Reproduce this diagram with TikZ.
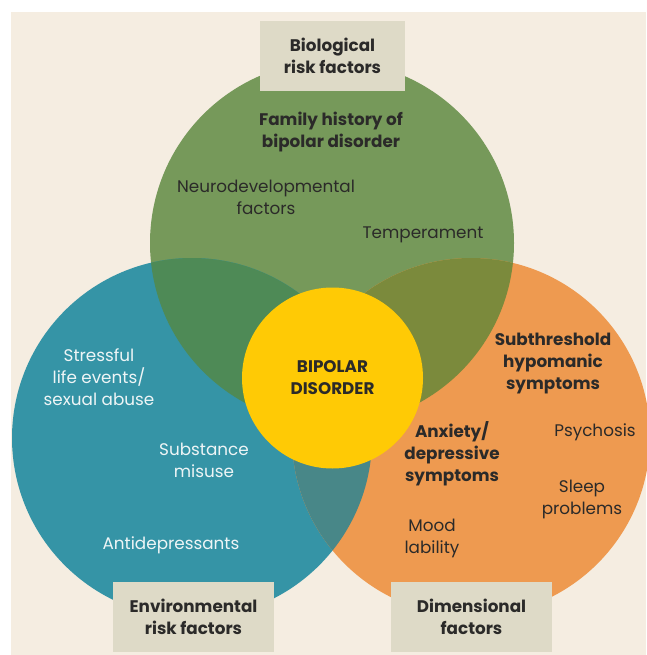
\documentclass[tikz,border=0pt]{standalone}
\usepackage{fontspec}
\setmainfont{Poppins}
\definecolor{bg}{HTML}{F5EDE1}
\definecolor{cgreen}{HTML}{76995A}
\definecolor{cblue}{HTML}{3594A6}
\definecolor{corange}{HTML}{EE9A50}
\definecolor{cyellow}{HTML}{FFCA05}
\definecolor{cgb}{HTML}{4E8A56}
\definecolor{cgo}{HTML}{7B8A3C}
\definecolor{cbo}{HTML}{488788}
\definecolor{boxc}{HTML}{DEDAC7}
\definecolor{txt}{HTML}{2B2A29}
\definecolor{wtxt}{HTML}{EEF5F6}
\begin{document}
\begin{tikzpicture}[x=1pt,y=-1pt,
  lbl/.style={align=center, text=txt, inner sep=0pt, font=\fontsize{16.8}{22}\selectfont},
  blbl/.style={lbl, font=\fontsize{16.8}{22}\selectfont\bfseries},
  wlbl/.style={lbl, text=wtxt},
  catbox/.style={fill=boxc, minimum width=#1, minimum height=70pt, inner sep=0pt, align=center, text=txt, font=\fontsize{16.8}{22}\selectfont\bfseries}]
\useasboundingbox (0,0) rectangle (646,655);
\fill[white] (0,0) rectangle (646,655);
\fill[bg] (11,12) rectangle (646,655);
% circles
\fill[cgreen] (332,243) circle[radius=182pt];
\fill[cblue] (192,438) circle[radius=180pt];
\fill[corange] (471,437) circle[radius=179pt];
\begin{scope}
  \clip (332,243) circle[radius=182pt];
  \fill[cgb] (192,438) circle[radius=180pt];
\end{scope}
\begin{scope}
  \clip (332,243) circle[radius=182pt];
  \fill[cgo] (471,437) circle[radius=179pt];
\end{scope}
\begin{scope}
  \clip (192,438) circle[radius=180pt];
  \fill[cbo] (471,437) circle[radius=179pt];
\end{scope}
\node[circle, fill=cyellow, minimum size=181pt, inner sep=0pt, align=center, text=txt,
  font=\fontsize{16.8}{22}\selectfont\bfseries] (core) at (332.5,378) {BIPOLAR\\DISORDER};
% category boxes
\node[catbox=145pt] (bio) at (332.5,56) {Biological\\risk factors};
\node[catbox=161pt] (env) at (193.5,617) {Environmental\\risk factors};
\node[catbox=161pt] (dim) at (471.5,617) {Dimensional\\factors};
% green texts
\node[blbl] (fam) at (331,132) {Family history of\\bipolar disorder};
\node[lbl] (neuro) at (266,197) {Neurodevelopmental\\factors};
\node[lbl] (temp) at (423,235) {Temperament};
% blue texts
\node[wlbl] (stress) at (99,377) {Stressful\\life events/\\sexual abuse};
\node[wlbl] (subst) at (204,460) {Substance\\misuse};
\node[wlbl] (antid) at (171,545) {Antidepressants};
% orange texts
\node[blbl] (subth) at (553,364) {Subthreshold\\hypomanic\\symptoms};
\node[blbl] (anx) at (452,454) {Anxiety/\\depressive\\symptoms};
\node[lbl] (psych) at (595,432) {Psychosis};
\node[lbl] (sleep) at (582,499) {Sleep\\problems};
\node[lbl] (mood) at (432,538) {Mood\\lability};
\end{tikzpicture}
\end{document}
